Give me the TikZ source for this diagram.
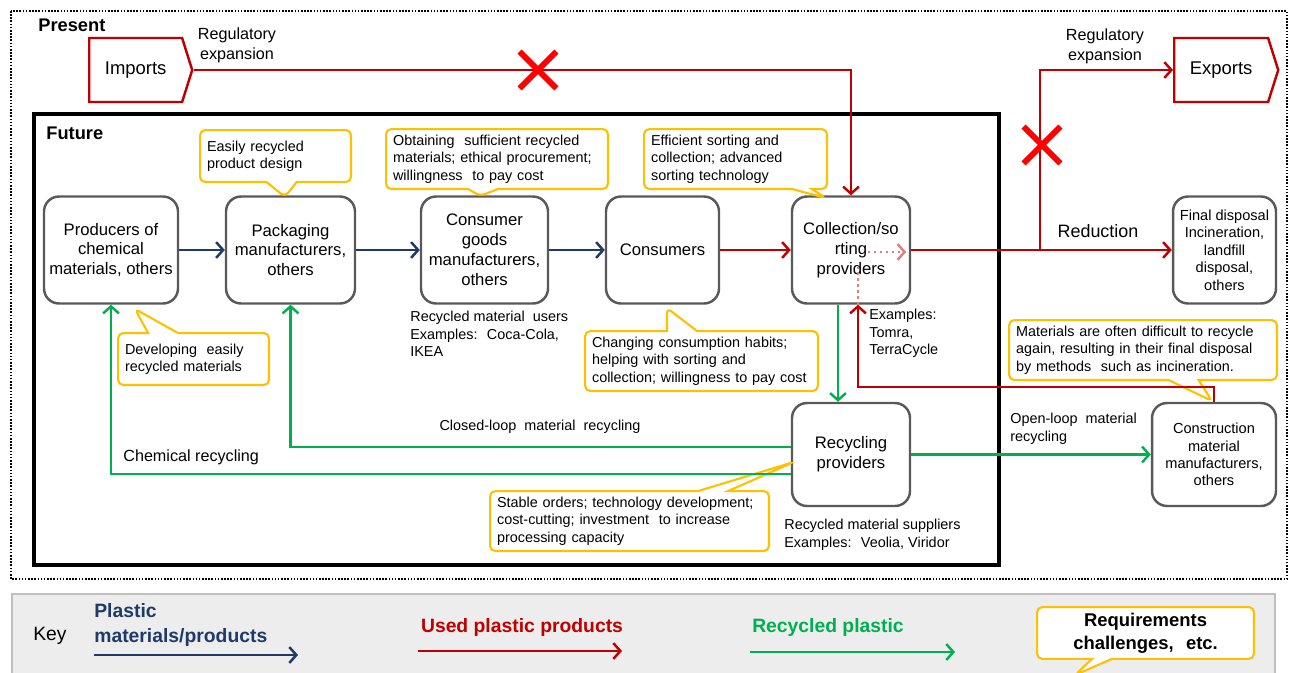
\documentclass[tikz,border=0pt]{standalone}
\usepackage{fontspec}
\setmainfont{Liberation Sans}
\usetikzlibrary{positioning, arrows.meta, shapes.symbols, shapes.callouts, shapes.misc}

\definecolor{matblue}{HTML}{1F3A68}
\definecolor{usedred}{HTML}{C00000}
\definecolor{recgreen}{HTML}{00B050}
\definecolor{needyellow}{HTML}{FFC000}
\definecolor{boxgray}{HTML}{595959}
\definecolor{keygray}{HTML}{EDEDED}
\definecolor{stopred}{HTML}{FF0000}

\tikzset{
    stage/.style={
        draw=boxgray,
        line width=1.4pt,
        rounded corners=0.3cm,
        align=center,
        inner sep=1pt,
        minimum height=2.14cm,
        font=\fontsize{9.5}{11.3}\selectfont
    },
    smallstage/.style={
        stage,
        font=\fontsize{8.3}{9.9}\selectfont
    },
    trade/.style={
        signal,
        draw=usedred,
        line width=1.4pt,
        signal from=nowhere,
        signal pointer angle=145,
        minimum height=1.28cm,
        font=\fontsize{10.5}{12}\selectfont
    },
    needs/.style={
        rectangle callout,
        draw=needyellow,
        line width=1.2pt,
        rounded corners=3pt,
        fill=white,
        align=left,
        anchor=north west,
        inner xsep=0.14cm,
        callout pointer width=0.6cm,
        font=\fontsize{8.2}{9.9}\selectfont
    },
    note/.style={
        align=left,
        inner sep=0pt,
        font=\fontsize{8.2}{9.9}\selectfont
    },
    flowlabel/.style={
        align=center,
        inner sep=0pt,
        font=\fontsize{9.2}{11.3}\selectfont
    },
    keytext/.style={
        align=left,
        inner sep=0pt,
        font=\bfseries\fontsize{11}{14}\selectfont
    },
    stopmark/.style={
        cross out,
        draw=stopred,
        line width=3.3pt,
        minimum size=0.62cm,
        inner sep=0pt
    },
    flow/.style={
        line width=1.4pt,
        -{Straight Barb[length=4pt, width=9pt]}
    },
    matflow/.style={flow, draw=matblue},
    usedflow/.style={flow, draw=usedred},
    recflow/.style={flow, draw=recgreen}
}

\begin{document}
\begin{tikzpicture}[x=0.02cm, y=-0.02cm]
    \useasboundingbox (0,0) rectangle (1292,673);

    % frames
    \draw[line width=1.1pt, dash pattern=on 0.9pt off 0.9pt] (11,11) rectangle (1287,579);
    \draw[line width=2.4pt] (34,114) rectangle (999,565);
    \node[anchor=west, inner sep=0pt, font=\bfseries\fontsize{10.4}{12}\selectfont] (present) at (38,25) {Present};
    \node[anchor=west, inner sep=0pt, font=\bfseries\fontsize{10.4}{12}\selectfont] (future) at (46,133) {Future};

    % actors
    \node[stage, minimum width=2.68cm] (prod) at (111,250) {Producers of\\chemical\\materials, others};
    \node[stage, minimum width=2.58cm] (pack) at (290.5,250) {Packaging\\manufacturers,\\others};
    \node[stage, minimum width=2.54cm] (goods) at (484.5,250) {Consumer\\goods\\manufacturers,\\others};
    \node[stage, minimum width=2.26cm] (cons) at (662.5,250) {Consumers};
    \node[stage, minimum width=2.36cm] (coll) at (851,250) {Collection/so\\rting\\providers};
    \node[smallstage, minimum width=2.06cm] (final) at (1224.5,250) {Final disposal\\Incineration,\\landfill\\disposal,\\others};
    \node[stage, minimum width=2.36cm, minimum height=2.06cm] (recy) at (851,454.5) {Recycling\\providers};
    \node[smallstage, minimum width=2.48cm, minimum height=2.06cm] (constr) at (1214,454.5) {Construction\\material\\manufacturers,\\others};
    \node[trade, signal to=east, minimum width=2.06cm, anchor=west] (imports) at (88,70) {Imports};
    \node[trade, signal to=east, minimum width=2.08cm, anchor=west] (exports) at (1173,70) {Exports};

    % requirements / challenges
    \node[needs, text width=2.74cm, minimum height=1.04cm, callout absolute pointer={(285,197)}] (c1) at (199,129)
        {Easily recycled\\product design};
    \node[needs, text width=4.16cm, minimum height=1.08cm, callout absolute pointer={(480,196)}] (c2) at (385,128)
        {Obtaining~ sufficient recycled\\materials; ethical procurement;\\willingness~ to pay cost};
    \node[needs, text width=3.38cm, minimum height=1.10cm, callout pointer width=0.4cm, callout absolute pointer={(826,198)}] (c3) at (643,128)
        {Efficient sorting and\\collection; advanced\\sorting technology};
    \node[needs, text width=2.74cm, minimum height=1.04cm, callout absolute pointer={(135,309)}] (c4) at (117,332)
        {Developing~ easily\\recycled materials};
    \node[needs, text width=4.38cm, minimum height=1.06cm, callout absolute pointer={(667,308)}] (c5) at (584,330)
        {Changing consumption habits;\\helping with sorting and\\collection; willingness to pay cost};
    \node[needs, text width=5.30cm, minimum height=1.20cm, callout absolute pointer={(794,462)}] (c6) at (489,490)
        {Stable orders; technology development;\\cost-cutting; investment~ to increase\\processing capacity};
    \node[needs, text width=5.08cm, minimum height=1.06cm, callout absolute pointer={(1212,401)}] (c7) at (1008,319)
        {Materials are often difficult to recycle\\again, resulting in their final disposal\\by methods~ such as incineration.};

    % flows
    \draw[matflow] (prod) -- (pack);
    \draw[matflow] (pack) -- (goods);
    \draw[matflow] (goods) -- (cons);
    \draw[usedflow] (cons) -- (coll);
    \draw[usedflow] (coll) -- (final);
    \coordinate (split) at (1040,250);
    \draw[usedflow] (split) |- (exports.west);
    \draw[usedflow] (imports.east) -| (coll.north);
    \draw[recflow] ([xshift=-0.26cm]coll.south) -- ([xshift=-0.26cm]recy.north);
    \draw[usedflow] (constr.north) -- ++(0,-15) -| ([xshift=0.14cm]coll.south);
    \draw[recflow] ([yshift=0.15cm]recy.west) -| (pack.south);
    \draw[recflow] ([yshift=-0.39cm]recy.west) -| (prod.south);
    \draw[recflow] (recy) -- (constr);
    % faded paths behind the collection box
    \draw[usedflow, draw=usedred!50, dotted] ([xshift=0.34cm, yshift=-0.04cm]coll.center) -- ([xshift=-0.1cm, yshift=-0.04cm]coll.east);
    \draw[line width=1.4pt, usedred!50, dotted] ([xshift=0.14cm]coll.south) -- ++(0,-38);

    \node[stopmark] (stopimp) at (538,70) {};
    \node[stopmark] (stopexp) at (1042,145) {};

    % labels
    \node[flowlabel] (regin) at (237,45) {Regulatory\\expansion};
    \node[flowlabel] (regout) at (1105,46) {Regulatory\\expansion};
    \node[inner sep=0pt, font=\fontsize{10.2}{12}\selectfont] (reduction) at (1098,231) {Reduction};
    \node[note] (closed) at (540,427) {Closed-loop~ material~ recycling};
    \node[flowlabel, anchor=west] (chemical) at (123,457) {Chemical recycling};
    \node[note, anchor=north west] (openloop) at (1010,413) {Open-loop~ material\\recycling};
    \node[note, anchor=north west] (users) at (410,311) {Recycled material~ users\\Examples:~ Coca-Cola,\\IKEA};
    \node[note, anchor=north west] (collex) at (869,309) {Examples:\\Tomra,\\TerraCycle};
    \node[note, anchor=north west] (suppliers) at (784,519) {Recycled material suppliers\\Examples:~ Veolia, Viridor};

    % key
    \draw[draw=black!25, line width=0.8pt, fill=keygray] (12,594) rectangle (1275,690);
    \node[anchor=west, inner sep=0pt, font=\fontsize{11}{13}\selectfont] (key) at (33,636) {Key};
    \node[keytext, text=matblue, anchor=west] (keymat) at (94,625) {Plastic\\materials/products};
    \node[keytext, text=usedred] (keyused) at (522,627) {Used plastic products};
    \node[keytext, text=recgreen] (keyrec) at (828,627) {Recycled plastic};
    \coordinate (matL) at (94,655);
    \coordinate (matR) at (298,655);
    \coordinate (usedL) at (418,651);
    \coordinate (usedR) at (622,651);
    \coordinate (recL) at (750,652);
    \coordinate (recR) at (955,652);
    \draw[matflow] (matL) -- (matR);
    \draw[usedflow] (usedL) -- (usedR);
    \draw[recflow] (recL) -- (recR);
    \node[needs, align=center, text width=4.06cm, minimum height=0.94cm, callout pointer width=0.4cm,
        font=\bfseries\fontsize{10.5}{13}\selectfont, callout absolute pointer={(1075,675)}] (keyneeds) at (1036,606)
        {Requirements\\challenges,~ etc.};
\end{tikzpicture}
\end{document}
